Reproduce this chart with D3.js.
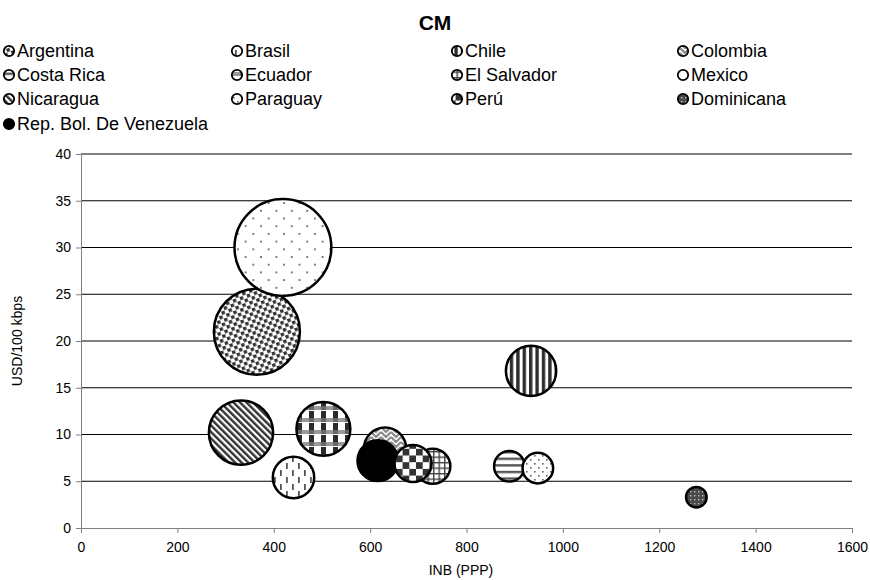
<!DOCTYPE html>
<html>
<head>
<meta charset="utf-8">
<script src="https://cdn.jsdelivr.net/npm/d3@7"></script>
<style>
  body { margin: 0; background: #fff; }
  text { font-family: "Liberation Sans", Arial, sans-serif; }
</style>
</head>
<body>
<div id="chart"></div>
<script>
// data, in legend (series) order
var countries = ["Argentina", "Brasil", "Chile", "Colombia", "Costa Rica", "Ecuador",
  "El Salvador", "Mexico", "Nicaragua", "Paraguay", "Perú", "Dominicana", "Rep. Bol. De Venezuela"];
var inb = [365, 441, 934, 631, 889, 503, 730, 419, 332, 948, 689, 1277, 616];
var usd = [21.0, 5.4, 16.8, 8.5, 6.6, 10.6, 6.6, 30.0, 10.2, 6.4, 6.9, 3.3, 7.2];
var bubbleSize = [79, 18.3, 27, 19, 10, 31, 13.2, 100, 44, 10, 14.7, 4.5, 17.7];
var xTicks = [0, 200, 400, 600, 800, 1000, 1200, 1400, 1600];
var yTicks = [0, 5, 10, 15, 20, 25, 30, 35, 40];
// order the bubbles are painted in (later = on top)
var drawOrder = ["Argentina", "Mexico", "Nicaragua", "Ecuador", "Brasil", "Colombia",
  "Rep. Bol. De Venezuela", "El Salvador", "Perú", "Costa Rica", "Paraguay", "Chile", "Dominicana"];

var W = 870, H = 580;
var margin = {top: 154, right: 18, bottom: 52, left: 81},
  width = W - margin.left - margin.right,
  height = H - margin.top - margin.bottom;

var svg = d3.select("#chart").append("svg")
  .attr("width", W)
  .attr("height", H);

function pid(name) { return "p" + countries.indexOf(name); }

// ---- fill patterns ----
var defs = svg.append("defs");
function pat(name, w, h, tf) {
  var p = defs.append("pattern").attr("id", pid(name))
    .attr("patternUnits", "userSpaceOnUse")
    .attr("width", w).attr("height", h);
  if (tf) p.attr("patternTransform", tf);
  p.append("rect").attr("width", w).attr("height", h).attr("fill", "#fff");
  return p;
}
// Argentina: dense small squares
var p = pat("Argentina", 7.4, 7.4, "rotate(-20)");
p.append("rect").attr("x", 0).attr("y", 0).attr("width", 3.4).attr("height", 3.4).attr("fill", "#333");
p.append("rect").attr("x", 3.7).attr("y", 3.7).attr("width", 3.4).attr("height", 3.4).attr("fill", "#333");
// Brasil: short vertical dashes
p = pat("Brasil", 12, 14);
p.append("rect").attr("x", 1).attr("y", 1).attr("width", 1.8).attr("height", 6).attr("fill", "#555");
p.append("rect").attr("x", 7).attr("y", 8).attr("width", 1.8).attr("height", 6).attr("fill", "#555");
// Chile: vertical stripes
p = pat("Chile", 6.4, 6.4);
p.append("rect").attr("x", 0).attr("width", 3.4).attr("height", 6.4).attr("fill", "#2e2e2e");
// Colombia: zigzag
p = pat("Colombia", 10, 10);
p.append("path").attr("d", "M0,3 L5,8 L10,3 M0,-2 L5,3 L10,-2 M0,8 L5,13 L10,8")
  .attr("fill", "none").attr("stroke", "#8a8a8a").attr("stroke-width", 2.2);
// Costa Rica: horizontal stripes
p = pat("Costa Rica", 6.6, 6.6);
p.append("rect").attr("y", 0).attr("width", 6.6).attr("height", 2.4).attr("fill", "#555");
// Ecuador: plaid
p = pat("Ecuador", 12, 12);
p.append("rect").attr("x", 0).attr("y", 0).attr("width", 12).attr("height", 4).attr("fill", "#9a9a9a");
p.append("rect").attr("x", 0).attr("y", 5).attr("width", 5).attr("height", 7).attr("fill", "#2a2a2a");
p.append("rect").attr("x", 0).attr("y", 0).attr("width", 5).attr("height", 4).attr("fill", "#666");
// El Salvador: small grid
p = pat("El Salvador", 5.5, 5.5);
p.append("path").attr("d", "M0,0.7 H5.5 M0.7,0 V5.5")
  .attr("stroke", "#444").attr("stroke-width", 1.4);
// Mexico: sparse staggered dots
p = pat("Mexico", 15.4, 15.4);
p.append("rect").attr("x", 2).attr("y", 2).attr("width", 1.8).attr("height", 1.8).attr("fill", "#666");
p.append("rect").attr("x", 9.7).attr("y", 9.7).attr("width", 1.8).attr("height", 1.8).attr("fill", "#666");
// Nicaragua: diagonal stripes
p = pat("Nicaragua", 4.6, 4.6, "rotate(-45)");
p.append("rect").attr("x", 0).attr("width", 2.4).attr("height", 4.6).attr("fill", "#333");
// Paraguay: small dots
p = pat("Paraguay", 8, 8);
p.append("rect").attr("x", 1).attr("y", 1).attr("width", 1.6).attr("height", 1.6).attr("fill", "#666");
p.append("rect").attr("x", 5).attr("y", 5).attr("width", 1.6).attr("height", 1.6).attr("fill", "#666");
// Perú: checkerboard
p = pat("Perú", 13.4, 13.4);
p.append("rect").attr("x", 0).attr("y", 0).attr("width", 6.7).attr("height", 6.7).attr("fill", "#333");
p.append("rect").attr("x", 6.7).attr("y", 6.7).attr("width", 6.7).attr("height", 6.7).attr("fill", "#333");
// Dominicana: dark with light dots
p = pat("Dominicana", 4, 4);
p.append("rect").attr("width", 4).attr("height", 4).attr("fill", "#4a4a4a");
p.append("rect").attr("x", 1).attr("y", 1).attr("width", 1.4).attr("height", 1.4).attr("fill", "#bbb");

function fillFor(name) {
  return name === "Rep. Bol. De Venezuela" ? "#000" : "url(#" + pid(name) + ")";
}

// ---- title ----
svg.append("text")
  .attr("x", W / 2)
  .attr("y", 30)
  .attr("text-anchor", "middle")
  .style("font-size", "21px")
  .style("font-weight", "bold")
  .text("CM");

// ---- legend ----
var colX = [9, 237, 457, 683];
var rowY = [51, 75, 99, 124];
var legend = svg.append("g");
countries.forEach(function(c, i) {
  var lx = colX[i % 4], ly = rowY[Math.floor(i / 4)];
  legend.append("circle")
    .attr("cx", lx).attr("cy", ly).attr("r", 5.2)
    .attr("fill", fillFor(c))
    .attr("stroke", "#000").attr("stroke-width", 1.8);
  legend.append("text")
    .attr("x", lx + 8).attr("y", ly + 6)
    .style("font-size", "18px")
    .text(c);
});

// ---- plot ----
var g = svg.append("g")
  .attr("transform", "translate(" + margin.left + "," + margin.top + ")");

var x = d3.scaleLinear().domain([0, 1600]).range([0, width]);
var y = d3.scaleLinear().domain([0, 40]).range([height, 0]);
var r = d3.scaleSqrt().domain([0, d3.max(bubbleSize)]).range([0, 48.4]);

// gridlines
g.selectAll(".grid").data(yTicks.slice(1)).enter().append("line")
  .attr("x1", 0).attr("x2", width)
  .attr("y1", function(d) { return y(d); })
  .attr("y2", function(d) { return y(d); })
  .attr("stroke", "#000").attr("stroke-width", 1);

// axes
var xAxis = g.append("g")
  .attr("transform", "translate(0," + height + ")")
  .call(d3.axisBottom(x).tickValues(xTicks).tickFormat(d3.format("d")).tickSize(5).tickPadding(9));
var yAxis = g.append("g")
  .call(d3.axisLeft(y).tickValues(yTicks).tickFormat(d3.format("d")).tickSize(5).tickPadding(5));
[xAxis, yAxis].forEach(function(a) {
  a.select(".domain").attr("stroke", "#808080");
  a.selectAll(".tick line").attr("stroke", "#808080");
  a.selectAll(".tick text")
    .style("font-family", "'Liberation Sans', Arial, sans-serif")
    .style("font-size", "14px").attr("fill", "#000");
});

// bubbles
var pts = countries.map(function(c, i) {
  return {name: c, x: inb[i], y: usd[i], s: bubbleSize[i]};
});
pts.sort(function(a, b) { return drawOrder.indexOf(a.name) - drawOrder.indexOf(b.name); });

g.selectAll(".bubble").data(pts).enter().append("circle")
  .attr("class", "bubble")
  .attr("cx", function(d) { return x(d.x); })
  .attr("cy", function(d) { return y(d.y); })
  .attr("r", function(d) { return r(d.s); })
  .attr("fill", function(d) { return fillFor(d.name); })
  .attr("stroke", "#000")
  .attr("stroke-width", 2.5);

// axis titles
svg.append("text")
  .attr("x", 461)
  .attr("y", 575)
  .attr("text-anchor", "middle")
  .style("font-size", "14px")
  .text("INB (PPP)");
svg.append("text")
  .attr("transform", "translate(22," + (margin.top + height / 2) + ") rotate(-90)")
  .attr("text-anchor", "middle")
  .style("font-size", "14px")
  .text("USD/100 kbps");
</script>
</body>
</html>
